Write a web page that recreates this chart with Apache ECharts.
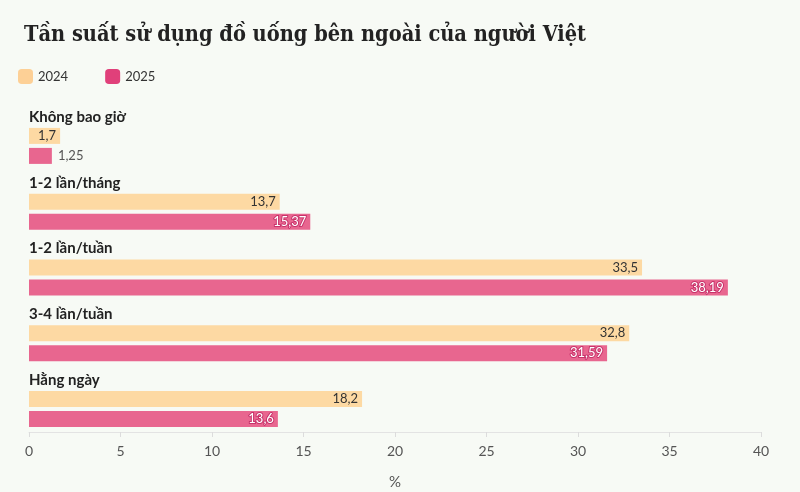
<!DOCTYPE html>
<html>
<head>
<meta charset="utf-8">
<script src="https://cdn.jsdelivr.net/npm/echarts@6/dist/echarts.min.js"></script>
<style>
  html, body { margin: 0; padding: 0; background: #f7faf5; }
  #chart { width: 800px; height: 492px; }
</style>
</head>
<body>
<div id="chart"></div>
<script>
  // du lieu
  var categories = ['Không bao giờ', '1-2 lần/tháng', '1-2 lần/tuần', '3-4 lần/tuần', 'Hằng ngày'];
  var values2024 = [1.7, 13.7, 33.5, 32.8, 18.2];
  var values2025 = [1.25, 15.37, 38.19, 31.59, 13.6];
  var xTicks = [0, 5, 10, 15, 20, 25, 30, 35, 40];

  var fontSans = 'Lato, "Noto Sans", sans-serif';

  function fmt(v) {
    return String(v).replace('.', ',');
  }

  function barData(vals, small) {
    return vals.map(function (v) {
      if (v < 1.5) {
        return { value: v, label: small };
      }
      return v;
    });
  }

  var chart = echarts.init(document.getElementById('chart'));

  chart.setOption({
    backgroundColor: '#f7faf5',
    title: {
      text: 'Tần suất sử dụng đồ uống bên ngoài của người Việt',
      left: 19,
      top: 19,
      textStyle: {
        fontFamily: '"DejaVu Serif Condensed", "DejaVu Serif", serif',
        fontWeight: 'bold',
        fontSize: 21.6,
        color: '#222'
      }
    },
    legend: {
      left: 13,
      top: 64,
      icon: 'roundRect',
      itemWidth: 15,
      itemHeight: 15,
      itemGap: 37,
      textStyle: { fontFamily: fontSans, fontSize: 13, color: '#333' },
      data: [
        { name: '2024', itemStyle: { color: '#fdd096' } },
        { name: '2025', itemStyle: { color: '#e0407a' } }
      ]
    },
    grid: {
      left: 29,
      right: 39,
      top: 113,
      bottom: 50,
      containLabel: false,
      outerBoundsMode: 'none'
    },
    xAxis: {
      type: 'value',
      min: 0,
      max: 40,
      interval: 5,
      offset: -10,
      name: '%',
      nameLocation: 'middle',
      nameGap: 43,
      nameTextStyle: { fontFamily: fontSans, fontSize: 15, color: '#555' },
      axisLine: { show: true, lineStyle: { color: '#e3e3e3' } },
      axisTick: { show: true, length: 5, lineStyle: { color: '#dcdcdc' } },
      splitLine: { show: false },
      axisLabel: {
        fontFamily: fontSans,
        fontSize: 14,
        color: '#555',
        margin: 12,
        formatter: function (v) { return xTicks.indexOf(v) >= 0 ? String(v) : ''; }
      }
    },
    yAxis: {
      type: 'category',
      inverse: true,
      data: categories,
      axisLine: { show: false },
      axisTick: { show: false },
      axisLabel: {
        inside: true,
        interval: 0,
        margin: 0,
        align: 'left',
        verticalAlign: 'bottom',
        lineHeight: 58,
        fontFamily: fontSans,
        fontWeight: 'bold',
        fontSize: 15,
        color: '#222'
      }
    },
    series: [
      {
        name: '2024',
        type: 'bar',
        barWidth: 16,
        barGap: '25%',
        itemStyle: { color: '#fdd9a3' },
        label: {
          show: true,
          position: 'insideRight',
          distance: 4,
          fontFamily: fontSans,
          fontSize: 13,
          color: '#333',
          formatter: function (p) { return fmt(p.value); }
        },
        data: barData(values2024, {})
      },
      {
        name: '2025',
        type: 'bar',
        barWidth: 16,
        barGap: '25%',
        itemStyle: { color: '#e8668f' },
        label: {
          show: true,
          position: 'insideRight',
          distance: 4,
          fontFamily: fontSans,
          fontSize: 13,
          color: '#fff',
          textBorderColor: '#c8336b',
          textBorderWidth: 2,
          formatter: function (p) { return fmt(p.value); }
        },
        data: barData(values2025, {
          position: 'right',
          distance: 6,
          color: '#555',
          textBorderWidth: 0
        })
      }
    ]
  });
</script>
</body>
</html>
